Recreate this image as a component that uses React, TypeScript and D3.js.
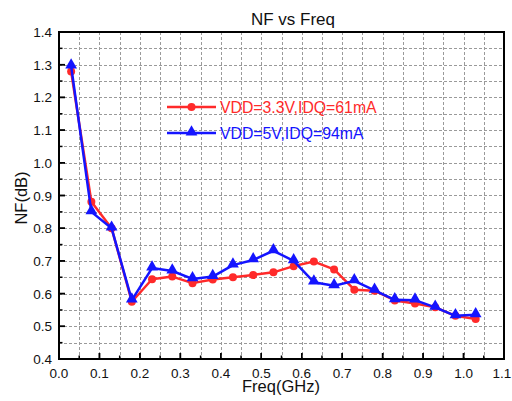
import { useEffect, useRef } from 'react'
import * as d3 from 'd3'

// Frequency points (GHz)
const FREQ = [0.03, 0.08, 0.13, 0.18, 0.23, 0.28, 0.33, 0.38, 0.43, 0.48, 0.53, 0.58, 0.63, 0.68, 0.73, 0.78, 0.83, 0.88, 0.93, 0.98, 1.03]

// NF (dB) for each bias condition
const NF_33V = [1.279, 0.881, 0.8, 0.575, 0.644, 0.652, 0.632, 0.643, 0.65, 0.657, 0.665, 0.684, 0.698, 0.674, 0.612, 0.609, 0.579, 0.57, 0.558, 0.532, 0.522]
const NF_5V = [1.296, 0.85, 0.8, 0.58, 0.678, 0.669, 0.645, 0.652, 0.687, 0.703, 0.731, 0.7, 0.635, 0.624, 0.639, 0.61, 0.581, 0.58, 0.558, 0.532, 0.535]

const X_TICKS = [0, 0.1, 0.2, 0.3, 0.4, 0.5, 0.6, 0.7, 0.8, 0.9, 1.0, 1.1]
const Y_TICKS = [0.4, 0.5, 0.6, 0.7, 0.8, 0.9, 1.0, 1.1, 1.2, 1.3, 1.4]

const SERIES = [
  { label: 'VDD=3.3V,IDQ=61mA', values: NF_33V, color: '#ff2a2a', marker: 'circle' },
  { label: 'VDD=5V,IDQ=94mA', values: NF_5V, color: '#1414ff', marker: 'triangle' },
]

const FONT = '"Liberation Sans", Arial, sans-serif'

export default function App() {
  const svgRef = useRef<SVGSVGElement>(null)

  useEffect(() => {
    if (!svgRef.current) return
    const svg = d3.select(svgRef.current)
    svg.selectAll('*').remove()

    const left = 59, right = 504, top = 32, bottom = 359

    const x = d3.scaleLinear().domain([0, 1.1]).range([left, right])
    const y = d3.scaleLinear().domain([0.4, 1.4]).range([bottom, top])

    svg.append('rect').attr('width', 512).attr('height', 401).attr('fill', '#fff')

    // grid at every half step
    const xGrid = d3.range(1, 22).map(i => i * 0.05)
    const yGrid = d3.range(1, 20).map(i => 0.4 + i * 0.05)
    const grid = svg.append('g').attr('stroke', '#9a9a9a').attr('stroke-width', 1).attr('stroke-dasharray', '3,2')
    grid.selectAll('line.gx').data(xGrid).join('line')
      .attr('x1', d => Math.round(x(d)) + 0.5).attr('x2', d => Math.round(x(d)) + 0.5)
      .attr('y1', top).attr('y2', bottom)
    grid.selectAll('line.gy').data(yGrid).join('line')
      .attr('y1', d => Math.round(y(d)) + 0.5).attr('y2', d => Math.round(y(d)) + 0.5)
      .attr('x1', left).attr('x2', right)

    // frame
    svg.append('rect')
      .attr('x', left).attr('y', top).attr('width', right - left).attr('height', bottom - top)
      .attr('fill', 'none').attr('stroke', '#000').attr('stroke-width', 2)

    // ticks (inward)
    const ticks = svg.append('g').attr('stroke', '#000').attr('stroke-width', 1.5)
    xGrid.concat(X_TICKS).forEach(v => {
      const major = X_TICKS.some(t => Math.abs(t - v) < 1e-6)
      const len = major ? 6 : 3.5
      ticks.append('line').attr('x1', x(v)).attr('x2', x(v)).attr('y1', bottom).attr('y2', bottom - len)
    })
    yGrid.concat(Y_TICKS).forEach(v => {
      const major = Y_TICKS.some(t => Math.abs(t - v) < 1e-6)
      const len = major ? 6 : 3.5
      ticks.append('line').attr('y1', y(v)).attr('y2', y(v)).attr('x1', left).attr('x2', left + len)
    })

    // tick labels
    svg.append('g').selectAll('text').data(X_TICKS).join('text')
      .attr('x', d => Math.min(x(d), 502)).attr('y', bottom + 19)
      .attr('text-anchor', 'middle').attr('font-family', FONT).attr('font-size', 13.5).attr('fill', '#111')
      .text(d => d.toFixed(1))
    svg.append('g').selectAll('text').data(Y_TICKS).join('text')
      .attr('x', left - 7).attr('y', d => y(d) + 5)
      .attr('text-anchor', 'end').attr('font-family', FONT).attr('font-size', 13.5).attr('fill', '#111')
      .text(d => d.toFixed(1))

    // titles
    svg.append('text').attr('x', 293).attr('y', 25).attr('text-anchor', 'middle')
      .attr('font-family', FONT).attr('font-size', 17).attr('fill', '#111').text('NF vs Freq')
    svg.append('text').attr('x', 281).attr('y', 392).attr('text-anchor', 'middle')
      .attr('font-family', FONT).attr('font-size', 16.5).attr('fill', '#111').text('Freq(GHz)')
    svg.append('text').attr('transform', 'translate(27,198) rotate(-90)')
      .attr('text-anchor', 'middle').attr('font-family', FONT).attr('font-size', 16.5).attr('fill', '#111').text('NF(dB)')

    const line = d3.line<number>().x((_, i) => x(FREQ[i])).y(d => y(d))
    const triangle = d3.symbol().type(d3.symbolTriangle).size(60)

    const drawMarker = (g: d3.Selection<SVGGElement, unknown, null, undefined>, kind: string, cx: number, cy: number, color: string) => {
      if (kind === 'circle') {
        g.append('circle').attr('cx', cx).attr('cy', cy).attr('r', 4).attr('fill', color)
      } else {
        g.append('path').attr('d', triangle()).attr('transform', `translate(${cx},${cy - 1})`).attr('fill', color)
      }
    }

    SERIES.forEach((s, si) => {
      const g = svg.append('g')
      g.append('path').datum(s.values).attr('d', line)
        .attr('fill', 'none').attr('stroke', s.color).attr('stroke-width', 2.5).attr('stroke-linejoin', 'round')
      s.values.forEach((v, i) => drawMarker(g, s.marker, x(FREQ[i]), y(v), s.color))

      // legend
      const ly = 107 + si * 26
      g.append('line').attr('x1', 167).attr('x2', 216).attr('y1', ly).attr('y2', ly)
        .attr('stroke', s.color).attr('stroke-width', 2.5)
      drawMarker(g, s.marker, 191.5, ly, s.color)
      g.append('text').attr('x', 220).attr('y', ly + 6).attr('font-family', FONT).attr('font-size', 15.8)
        .attr('fill', s.color).text(s.label)
    })
  }, [])

  return (
    <div style={{ position: 'fixed', left: 0, top: 0, width: 512, height: 401, overflow: 'hidden' }}>
      <svg ref={svgRef} width={512} height={401} style={{ display: 'block' }} />
    </div>
  )
}
